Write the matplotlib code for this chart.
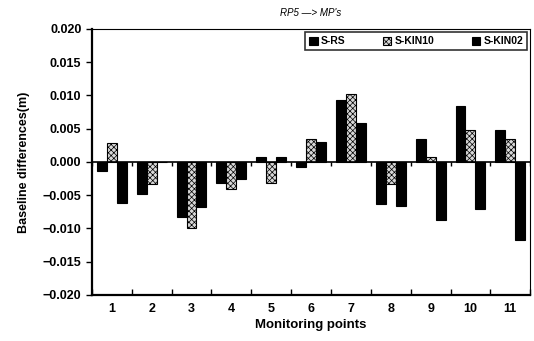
import numpy as np
import matplotlib.pyplot as plt

plt.rcParams["font.family"] = ["Liberation Sans", "DejaVu Sans"]
plt.rcParams["hatch.color"] = "#666666"
plt.rcParams["hatch.linewidth"] = 0.5

points = ["1", "2", "3", "4", "5", "6", "7", "8", "9", "10", "11"]
s_rs = [-0.0013, -0.0048, -0.0082, -0.0032, 0.0008, -0.0008, 0.0093, -0.0063, 0.0034, 0.0084, 0.0048]
s_kin10 = [0.0029, -0.0033, -0.0100, -0.0040, -0.0032, 0.0034, 0.0102, -0.0033, 0.0007, 0.0048, 0.0035]
s_kin02 = [-0.0061, 0.0, -0.0067, -0.0026, 0.0008, 0.0030, 0.0058, -0.0066, -0.0088, -0.0071, -0.0117]

x = np.arange(1, len(points) + 1)
width = 0.25

fig = plt.figure(figsize=(5.34, 3.41), dpi=100)
ax = fig.add_axes([0.172, 0.135, 0.821, 0.780])

ax.bar(x - width, s_rs, width, color="black", edgecolor="black", linewidth=0.8, label="S-RS")
ax.bar(x, s_kin10, width, color="#d8d8d8", edgecolor="black", linewidth=0.8,
       hatch="xxxxxx", label="S-KIN10")
ax.bar(x + width, s_kin02, width, color="black", edgecolor="black", linewidth=0.8, label="S-KIN02")

ax.axhline(0, color="black", linewidth=1.2)
# tick marks on the category axis at group boundaries
bounds = np.arange(0.5, len(points) + 1)
ax.vlines(bounds, -0.0006, 0, color="black", linewidth=1)

ax.set_xlim(0.5, len(points) + 0.5)
ax.set_ylim(-0.020, 0.020)
ax.set_yticks(np.arange(-0.020, 0.0201, 0.005))
ax.set_yticklabels([f"{v:.3f}".replace("-", "\u2212") for v in np.arange(-0.020, 0.0201, 0.005)])
ax.set_xticks(bounds, minor=True)
ax.set_xticks(x)
ax.set_xticklabels(points)
ax.tick_params(axis="x", which="major", length=0, pad=6)
ax.tick_params(axis="x", which="minor", length=4, direction="in", width=1)
ax.tick_params(axis="y", length=4, direction="out", width=1)
for lab in ax.get_xticklabels() + ax.get_yticklabels():
    lab.set_fontweight("bold")
    lab.set_fontsize(9)

for side in ["left", "bottom"]:
    ax.spines[side].set_linewidth(1.6)
for side in ["top", "right"]:
    ax.spines[side].set_linewidth(0.8)

ax.set_xlabel("Monitoring points", fontsize=9.5, fontweight="bold", labelpad=3)
ax.set_ylabel("Baseline differences(m)", fontsize=9, fontweight="bold", labelpad=9)
ax.set_title("RP5 \u2014> MP's", fontsize=7, style="italic", pad=9)

leg = ax.legend(loc="upper right", ncol=3, fontsize=7.5, frameon=True, fancybox=False,
                edgecolor="black", handlelength=0.8, handleheight=0.8, handletextpad=0.3,
                columnspacing=3.6, borderpad=0.4, borderaxespad=0.3)
leg.get_frame().set_linewidth(1.2)
for t in leg.get_texts():
    t.set_fontweight("bold")

fig.savefig("out.png", dpi=100)
